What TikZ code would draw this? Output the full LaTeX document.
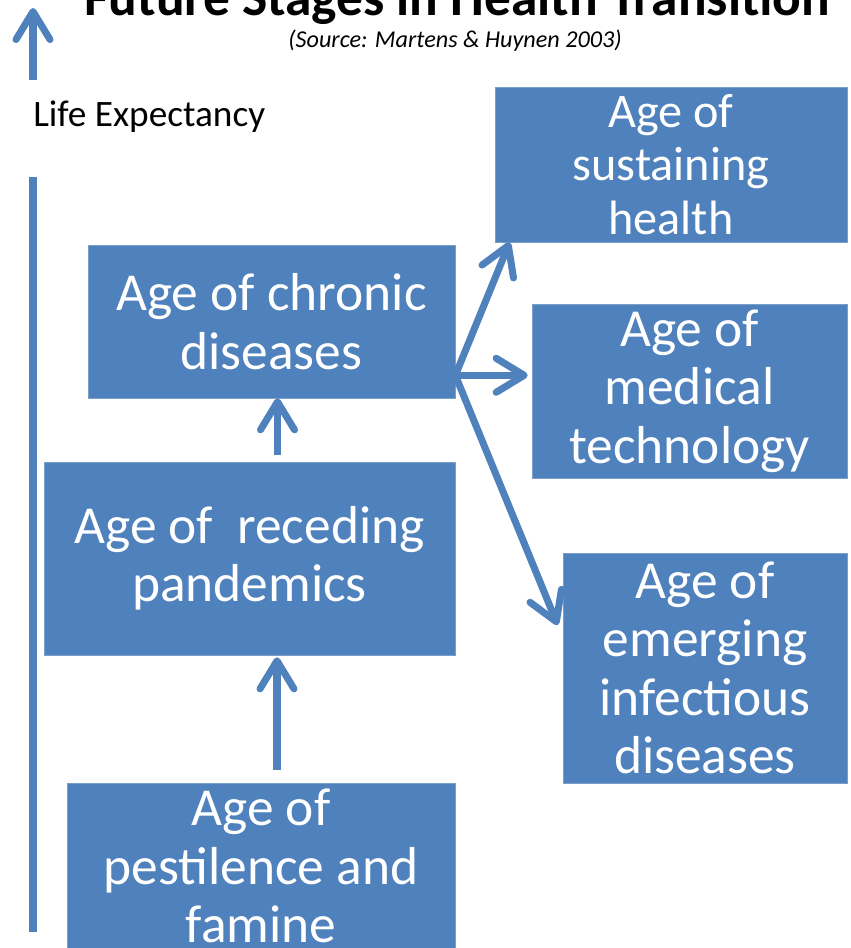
\documentclass[tikz,border=0pt]{standalone}
\usepackage{fontspec}
\setmainfont{Carlito}
\usepackage{xcolor}
\usetikzlibrary{arrows.meta, positioning}
\definecolor{ageblue}{HTML}{4F81BD}
\definecolor{ageedge}{HTML}{7A9FCB}

\begin{document}
\begin{tikzpicture}[
    x=0.025cm, y=-0.025cm,
    age/.style={rectangle, draw=ageedge, fill=ageblue, text=white, align=center, inner sep=0pt, font=\fontsize{38}{41.5}\selectfont},
    arrow/.style={draw=ageblue, line width=5pt, -{Straight Barb[length=7mm, width=8.5mm, round]}},
    axis/.style={draw=ageblue, line width=5pt}
]
\clip (0,0) rectangle (850,948);

\node[font=\fontsize{38}{44}\selectfont\bfseries, anchor=base] (title) at (457,15) {Future Stages in Health Transition};
\node[font=\fontsize{17.2}{20}\selectfont\itshape, anchor=base] (src) at (455,47) {(Source: Martens \& Huynen 2003)};
\node[font=\fontsize{26.5}{30}\selectfont, anchor=west, inner sep=0pt] (life) at (33,117) {Life Expectancy};

\coordinate (axtop) at (33,8);
\coordinate (axmid) at (33,80);
\coordinate (axlow) at (33,177);
\coordinate (axbot) at (33,932);
\draw[arrow] (axmid) -- (axtop);
\draw[axis] (axlow) -- (axbot);

\node[age, minimum width=9.7cm, minimum height=4.15cm] (pest) at (261,866) {Age of\\pestilence and\\famine};
\node[age, minimum width=10.275cm, minimum height=4.825cm] (rec) at (249.5,558.5) {Age of \ receding\\pandemics};
\node[age, minimum width=9.175cm, minimum height=3.825cm] (chr) at (271.5,321.5) {Age of chronic\\diseases};
\node[age, font=\fontsize{34.3}{38}\selectfont, minimum width=8.8cm, minimum height=3.875cm] (sus) at (671,164.5) {Age of\\sustaining\\health};
\node[age, minimum width=7.875cm, minimum height=4.35cm] (med) at (689.5,391) {Age of\\medical\\technology};
\node[age, minimum width=7.1cm, minimum height=5.75cm] (emg) at (705,668) {Age of\\emerging\\infectious\\diseases};

\coordinate (fork) at ([yshift=0.575cm]chr.south east);

\draw[arrow] ([xshift=0.4cm,yshift=0.325cm]pest.north) -- ([xshift=0.4cm,yshift=-0.05cm]pest.north |- rec.south);
\draw[arrow] ([xshift=0.7cm,yshift=0.175cm]rec.north) -- ([xshift=0.7cm]rec.north |- chr.south);
\draw[arrow] (fork) -- ([xshift=0.375cm]sus.south west);
\draw[arrow] (fork) -- ([xshift=-0.1cm]fork -| med.west);
\draw[arrow] (fork) -- ([xshift=-0.125cm,yshift=1.075cm]emg.west);
\end{tikzpicture}
\end{document}
